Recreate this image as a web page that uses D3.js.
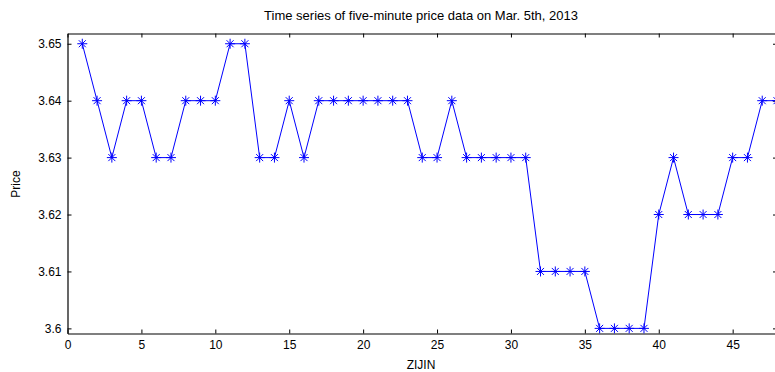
<!DOCTYPE html>
<html>
<head>
<meta charset="UTF-8">
<title>Time series of five-minute price data</title>
<script src="https://d3js.org/d3.v7.min.js"></script>
<style>
  body { margin: 0; background: #fff; overflow: hidden; }
  svg { display: block; font-family: "Liberation Sans", Arial, sans-serif; }
  .axis text { font-size: 12px; fill: #000; }
  .axis path, .axis line { stroke: #000; }
</style>
</head>
<body>
<div id="chart"></div>
<script>
  // five-minute index (1..48)
  const index = d3.range(1, 49)
  const price = [
    3.65, 3.64, 3.63, 3.64, 3.64, 3.63, 3.63, 3.64, 3.64, 3.64,
    3.65, 3.65, 3.63, 3.63, 3.64, 3.63, 3.64, 3.64, 3.64, 3.64,
    3.64, 3.64, 3.64, 3.63, 3.63, 3.64, 3.63, 3.63, 3.63, 3.63,
    3.63, 3.61, 3.61, 3.61, 3.61, 3.60, 3.60, 3.60, 3.60, 3.62,
    3.63, 3.62, 3.62, 3.62, 3.63, 3.63, 3.64, 3.64
  ]
  const xTicks = [0, 5, 10, 15, 20, 25, 30, 35, 40, 45]
  const yTicks = [3.60, 3.61, 3.62, 3.63, 3.64, 3.65]
  const yTickLabels = ['3.6', '3.61', '3.62', '3.63', '3.64', '3.65']

  const width = 775, height = 372
  // the figure is cropped on the right: the right box edge sits just past the window
  const margin = {top: 33.5, right: -2, bottom: 38.5, left: 67.5}
  const w = width - margin.left - margin.right,
    h = height - margin.top - margin.bottom

  const svg = d3.select('#chart').append('svg')
    .attr('width', width)
    .attr('height', height)

  const g = svg.append('g')
    .attr('transform', 'translate(' + margin.left + ',' + margin.top + ')')

  const x = d3.scaleLinear().domain([0, 48]).range([0, w])
  const y = d3.scaleLinear().domain([3.5991, 3.6518]).range([h, 0])

  // axes (matlab style: ticks pointing inward, box on)
  g.append('g').attr('class', 'axis')
    .attr('transform', 'translate(0,' + h + ')')
    .call(d3.axisBottom(x).tickValues(xTicks).tickSizeInner(-4).tickSizeOuter(0).tickPadding(7))
  g.append('g').attr('class', 'axis')
    .call(d3.axisTop(x).tickValues(xTicks).tickSizeInner(-4).tickSizeOuter(0).tickFormat(''))
  g.append('g').attr('class', 'axis')
    .call(d3.axisLeft(y).tickValues(yTicks).tickSizeInner(-4).tickSizeOuter(0).tickPadding(6)
      .tickFormat((d, i) => yTickLabels[i]))
  g.append('g').attr('class', 'axis')
    .attr('transform', 'translate(' + w + ',0)')
    .call(d3.axisRight(y).tickValues(yTicks).tickSizeInner(-4).tickSizeOuter(0).tickFormat(''))

  g.selectAll('.axis path').attr('stroke-width', 1.2)

  const data = index.map((d, i) => ({x: d, y: price[i]}))

  const line = d3.line().x(d => x(d.x)).y(d => y(d.y))
  g.append('path')
    .datum(data)
    .attr('fill', 'none')
    .attr('stroke', '#0000ff')
    .attr('stroke-width', 1)
    .attr('d', line)

  // asterisk markers
  const s = 5, sd = 3.5
  const star = 'M' + (-s) + ',0H' + s + 'M0,' + (-s) + 'V' + s +
    'M' + (-sd) + ',' + (-sd) + 'L' + sd + ',' + sd +
    'M' + (-sd) + ',' + sd + 'L' + sd + ',' + (-sd)
  g.selectAll('.mark')
    .data(data)
    .enter().append('path')
    .attr('class', 'mark')
    .attr('transform', d => 'translate(' + x(d.x) + ',' + y(d.y) + ')')
    .attr('d', star)
    .attr('stroke', '#0000ff')
    .attr('stroke-width', 1)
    .attr('fill', 'none')

  // title and labels
  svg.append('text')
    .attr('x', 421).attr('y', 20)
    .attr('text-anchor', 'middle')
    .attr('font-size', 13)
    .text('Time series of five-minute price data on Mar. 5th, 2013')
  svg.append('text')
    .attr('transform', 'translate(20,184) rotate(-90)')
    .attr('text-anchor', 'middle')
    .attr('font-size', 12)
    .text('Price')
  svg.append('text')
    .attr('x', 421).attr('y', 369)
    .attr('text-anchor', 'middle')
    .attr('font-size', 12)
    .text('ZIJIN')
</script>
</body>
</html>
